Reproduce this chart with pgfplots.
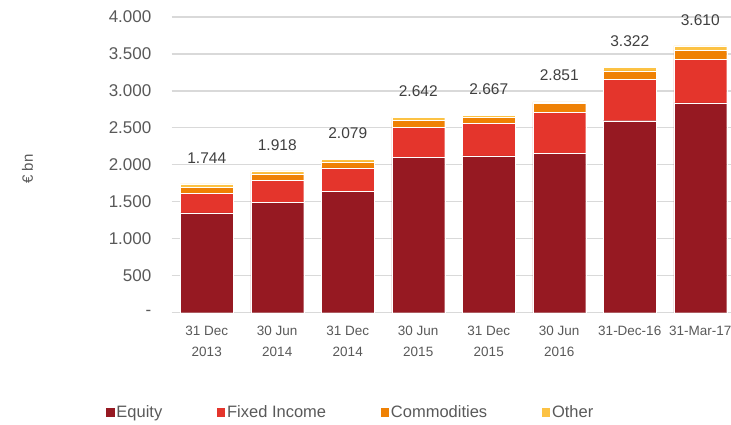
\documentclass[border=0pt]{standalone}
\usepackage{pgfplots}
\pgfplotsset{compat=1.18}
\usepackage{fontspec}
\setmainfont{Liberation Sans}
\definecolor{eqc}{HTML}{961922}
\definecolor{fic}{HTML}{E4352C}
\definecolor{coc}{HTML}{EF8104}
\definecolor{otc}{HTML}{FCC244}
\definecolor{gridc}{HTML}{D9D9D9}
\definecolor{tickc}{HTML}{595959}
\definecolor{valc}{HTML}{404040}
\begin{document}
\begin{tikzpicture}
\path[use as bounding box] (0,0) rectangle (731bp,425bp);
\begin{axis}[
  at={(171.5bp,112.3bp)}, anchor=south west,
  scale only axis, width=564bp, height=295.7bp,
  ybar stacked, bar width=0.75,
  xmin=-0.5, xmax=7.5, ymin=0, ymax=4000,
  xtick={0,...,7},
  xticklabels={{31 Dec\\2013},{30 Jun\\2014},{31 Dec\\2014},{30 Jun\\2015},{31 Dec\\2015},{30 Jun\\2016},{31-Dec-16},{31-Mar-17}},
  xticklabel style={align=center, anchor=north, font=\fontsize{13.5bp}{21bp}\selectfont, text=tickc, inner sep=0pt, yshift=-13bp},
  ytick={0,500,...,4000},
  yticklabels={{-\hspace{11bp}},500,1.000,1.500,2.000,2.500,3.000,3.500,4.000},
  yticklabel style={anchor=east, font=\fontsize{17bp}{20bp}\selectfont, text=tickc, inner sep=0pt, xshift=-20bp},
  axis line style={draw=none}, major tick length=0pt,
  ymajorgrids, grid style={color=gridc, line width=1.2bp},
  ylabel={€ bn},
  every axis y label/.style={at={(-144bp,143.7bp)}, rotate=90, anchor=center, font=\fontsize{15bp}{18bp}\selectfont, text=tickc},
  legend columns=4,
  legend style={draw=none, fill=none, at={(-0.118,-0.336)}, anchor=west, inner sep=0pt,
    font=\fontsize{16.5bp}{19bp}\selectfont, text=tickc,
    nodes={inner sep=1.5bp},
    /tikz/every even column/.append style={column sep=52bp}},
  legend image code/.code={\fill[#1] (0bp,-5bp) rectangle (9.5bp,5bp);},
  every node near coord/.append style={font=\fontsize{15.5bp}{18bp}\selectfont, text=valc, anchor=south, inner sep=0pt, yshift=22bp},
]
\addplot[fill=eqc, draw=white, line width=0.3bp] coordinates {(0,1350) (1,1490) (2,1639) (3,2098) (4,2120) (5,2160) (6,2597) (7,2840)};
\addplot[fill=fic, draw=white, line width=0.3bp] coordinates {(0,265) (1,297) (2,319) (3,412) (4,445) (5,549) (6,562) (7,589)};
\addplot[fill=coc, draw=white, line width=0.3bp] coordinates {(0,80) (1,90) (2,81) (3,90) (4,80) (5,126) (6,113) (7,122)};
\addplot[fill=otc, draw=white, line width=0.3bp, nodes near coords, point meta=explicit symbolic] coordinates {(0,49) [1.744] (1,41) [1.918] (2,40) [2.079] (3,42) [2.642] (4,22) [2.667] (5,16) [2.851] (6,50) [3.322] (7,59) [3.610]};
\legend{Equity, Fixed Income, Commodities, Other}
\end{axis}
\end{tikzpicture}
\end{document}
